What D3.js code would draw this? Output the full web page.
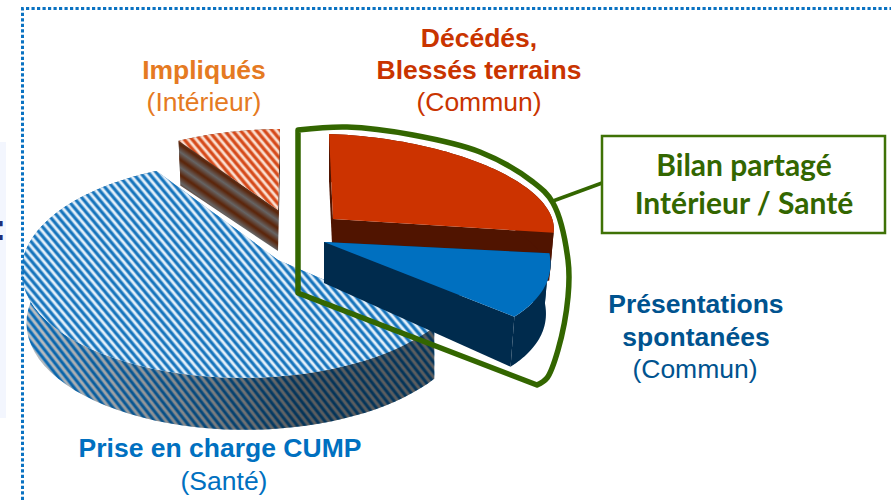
<!DOCTYPE html>
<html>
<head>
<meta charset="utf-8">
<script src="https://cdn.jsdelivr.net/npm/d3@7"></script>
<style>
  html, body { margin: 0; padding: 0; background: #fff; overflow: hidden; }
  text { font-family: "Liberation Sans", Arial, sans-serif; }
</style>
</head>
<body>
<div id="chart"></div>
<script>
// share of each slice, clockwise from the back of the pie
const sliceNames = ['Décédés', 'Présentations', 'CUMP', 'Impliqués'];
const sliceValues = [24.4, 13.1, 54.2, 8.3];

const redLabel = ['Décédés,', 'Blessés terrains', '(Commun)'];
const orangeLabel = ['Impliqués', '(Intérieur)'];
const blueLabel = ['Prise en charge CUMP', '(Santé)'];
const darkBlueLabel = ['Présentations', 'spontanées', '(Commun)'];
const boxLabel = ['Bilan partagé', 'Intérieur / Santé'];

const w = 891;
const h = 500;

const svg = d3.select('#chart')
  .append('svg')
  .attr('width', w)
  .attr('height', h)
  .style('display', 'block');

const defs = svg.append('defs');

// diagonal stripes, dark core with soft edge like the scaled up original
function stripes(id, bg, soft, core, period, angle) {
  const p = defs.append('pattern')
    .attr('id', id)
    .attr('patternUnits', 'userSpaceOnUse')
    .attr('width', period)
    .attr('height', period)
    .attr('patternTransform', 'rotate(' + angle + ')');
  p.append('rect').attr('width', period).attr('height', period).attr('fill', bg);
  p.append('rect').attr('x', period * 0.12).attr('width', period * 0.66).attr('height', period).attr('fill', soft);
  p.append('rect').attr('x', period * 0.25).attr('width', period * 0.4).attr('height', period).attr('fill', core);
}
stripes('blueTop', '#e9f3fb', '#7db3de', '#1573bb', 6.1, -40);
stripes('orangeTop', '#fbe3d8', '#e88f68', '#d5481a', 6.1, -40);
stripes('blueWall', '#c4c4c4', '#6da2cc', '#0b6cb6', 6.1, -38);

// orange side has soft bands that follow its top edge
const bandGrad = defs.append('linearGradient')
  .attr('id', 'bandGrad').attr('x1', 0).attr('x2', 0).attr('y1', 0).attr('y2', 1);
bandGrad.append('stop').attr('offset', 0).attr('stop-color', '#5a2206');
bandGrad.append('stop').attr('offset', 0.5).attr('stop-color', '#666464');
bandGrad.append('stop').attr('offset', 1).attr('stop-color', '#5a2206');
const bands = defs.append('pattern')
  .attr('id', 'orangeWall')
  .attr('patternUnits', 'userSpaceOnUse')
  .attr('width', 20).attr('height', 12.5)
  .attr('patternTransform', 'translate(178,143) rotate(35)');
bands.append('rect').attr('width', 20).attr('height', 12.5).attr('fill', 'url(#bandGrad)');

// blue side gets darker towards the right
const shade = defs.append('linearGradient')
  .attr('id', 'wallShade').attr('gradientUnits', 'userSpaceOnUse')
  .attr('x1', 20).attr('x2', 300).attr('y1', 0).attr('y2', 0);
shade.append('stop').attr('offset', 0).attr('stop-color', '#000').attr('stop-opacity', 0);
shade.append('stop').attr('offset', 1).attr('stop-color', '#000').attr('stop-opacity', 0.52);

// each slice was exploded and distorted on its own in the original,
// so each one has its own projection of the pie plane onto the page
const views = {
  'Décédés':       { x: 333, y: 219, a: 198, b: 3.6, c: 15.3, d: 76.5, p: -0.1, q: 0.1, h0: 46, h1: 2, shrink: 0.02, top: '#cc3300', wall: '#501400' },
  'Présentations': { x: 324, y: 242, a: 339, b: 63.5, c: 22, d: 136, p: -0.2, q: -0.5, h0: 41, h1: 9, shrink: 0.02, top: '#0070c0', wall: '#002b4d' },
  'CUMP':          { x: 278, y: 260, a: 218, b: 14, c: -6.8, d: 106, p: 0.079, q: -0.15, h0: 48, h1: 4, shrink: 0.012, top: 'url(#blueTop)', wall: 'url(#blueWall)', anchor: 437, shade: true },
  'Impliqués':     { x: 278, y: 210, a: 203, b: -2, c: -2, d: 81, p: 0, q: 0, h0: 41, h1: 4, shrink: 0.02, top: 'url(#orangeTop)', wall: 'url(#orangeWall)' }
};

const slices = d3.pie().sort(null).startAngle(0).endAngle(2 * Math.PI)(sliceValues)
  .map((s, i) => Object.assign(s, { name: sliceNames[i], view: views[sliceNames[i]] }));

// angle and radius (0 to 1) to page position, on the top face or the bottom one
function project(view, angle, r, bottom) {
  const u = r * Math.sin(angle);
  const v = -r * Math.cos(angle);
  const s = 1 - view.p * v - view.q * u;
  let x = view.x + (view.a * u + view.b * v) / s;
  let y = view.y + (view.c * u + view.d * v) / s;
  if (bottom) {
    const anchor = view.anchor === undefined ? view.x : view.anchor;
    x += (anchor - x) * view.shrink;
    y += view.h0 + view.h1 * r;
  }
  return [x, y];
}

function rim(s, bottom) {
  return d3.range(0, 61).map(i => {
    const angle = s.startAngle + (s.endAngle - s.startAngle) * i / 60;
    return project(s.view, angle, 1, bottom);
  });
}

const line = d3.line().curve(d3.curveLinear);

function radialWall(s, angle) {
  return line([
    project(s.view, angle, 0, false),
    project(s.view, angle, 1, false),
    project(s.view, angle, 1, true),
    project(s.view, angle, 0, true)
  ]) + 'Z';
}

// back to front, the dark blue slice sits on top of the big striped one
const drawOrder = ['Impliqués', 'CUMP', 'Décédés', 'Présentations'];

drawOrder.forEach(name => {
  const s = slices.find(d => d.name === name);
  const g = svg.append('g').attr('class', 'slice');
  const wallPaths = [
    radialWall(s, s.startAngle),
    radialWall(s, s.endAngle),
    line(rim(s, false).concat(rim(s, true).reverse())) + 'Z'
  ];
  g.selectAll('path.wall')
    .data(wallPaths)
    .enter()
    .append('path')
    .attr('class', 'wall')
    .attr('d', d => d)
    .attr('fill', s.view.wall);
  if (s.view.shade) {
    g.append('path')
      .attr('d', wallPaths[2])
      .attr('fill', 'url(#wallShade)');
  }
  g.append('path')
    .attr('d', line([project(s.view, 0, 0, false)].concat(rim(s, false))) + 'Z')
    .attr('fill', s.view.top);
});

// dotted frame and the bit of the neighbouring panel on the left
svg.append('rect')
  .attr('x', 0).attr('y', 142).attr('width', 6).attr('height', 276)
  .attr('fill', '#f3f6fe');
svg.append('text')
  .attr('x', -6).attr('y', 240)
  .attr('font-size', 36).attr('font-weight', 'bold')
  .attr('fill', '#1f2f7a')
  .text(':');
svg.append('path')
  .attr('d', 'M22.5,500V8.5H891')
  .attr('fill', 'none')
  .attr('stroke', '#0a72c2')
  .attr('stroke-width', 3)
  .attr('stroke-dasharray', '3.2 2.3');

// green outline around the two shared slices
const outlineArc = [[298, 130], [347, 127], [413, 135], [480, 152], [533, 182], [553, 203], [568, 260], [568, 297], [558, 350], [547, 378], [537, 385]];
svg.append('path')
  .attr('d', d3.line().curve(d3.curveCatmullRom)(outlineArc) + 'L298,293Z')
  .attr('fill', 'none')
  .attr('stroke', '#336600')
  .attr('stroke-width', 5.5)
  .attr('stroke-linejoin', 'round');
svg.append('line')
  .attr('x1', 553).attr('y1', 201).attr('x2', 602).attr('y2', 183)
  .attr('stroke', '#336600').attr('stroke-width', 3.5);
svg.append('rect')
  .attr('x', 602).attr('y', 136).attr('width', 283).attr('height', 97)
  .attr('fill', '#fff')
  .attr('stroke', '#3f7206')
  .attr('stroke-width', 2.5);

function label(lines, xs, baselines, color, boldCount, size) {
  svg.append('g').selectAll('text')
    .data(lines)
    .enter()
    .append('text')
    .attr('x', (d, i) => xs[i])
    .attr('y', (d, i) => baselines[i])
    .attr('text-anchor', 'middle')
    .attr('font-size', size)
    .attr('font-weight', (d, i) => i < boldCount ? 'bold' : 'normal')
    .attr('fill', color)
    .text(d => d);
}

label(redLabel, [479, 479, 479], [47, 79, 111], '#c93400', 2, 26.5);
label(orangeLabel, [204, 204], [79, 111], '#e57a22', 1, 26.5);
label(darkBlueLabel, [696, 696, 695], [313, 346, 378], '#00538f', 2, 26.5);
label(blueLabel, [220, 224], [457, 490], '#0070c0', 1, 26.5);

svg.append('g').selectAll('text')
  .data(boxLabel)
  .enter()
  .append('text')
  .attr('x', 744)
  .attr('y', (d, i) => [176, 214][i])
  .attr('text-anchor', 'middle')
  .attr('font-size', 30)
  .attr('font-weight', 'bold')
  .attr('fill', '#336600')
  .style('font-family', 'Lato, sans-serif')
  .text(d => d);
</script>
</body>
</html>
